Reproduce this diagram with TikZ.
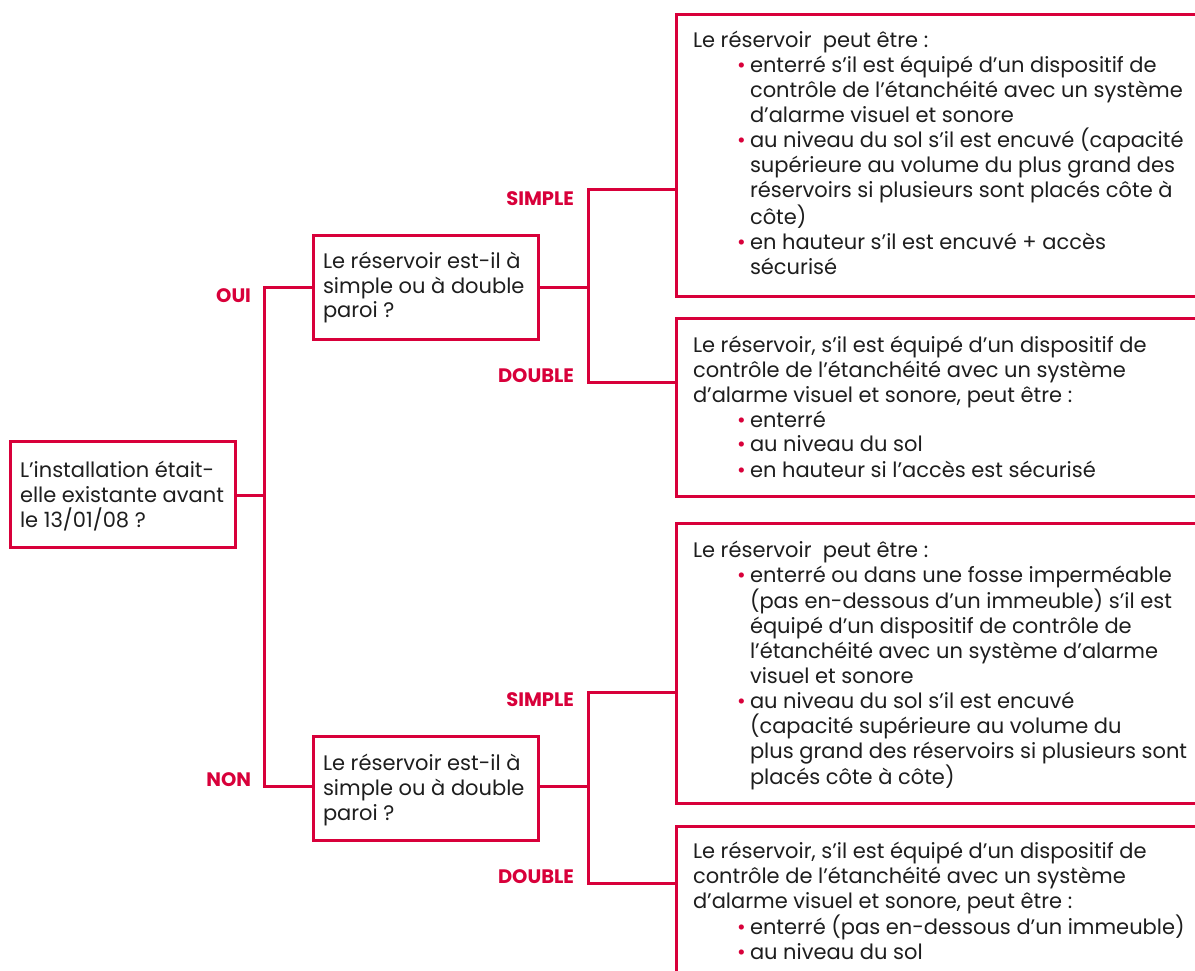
\documentclass[tikz,border=0pt]{standalone}
\usepackage{fontspec}
\setmainfont{Poppins}
\definecolor{rd}{RGB}{216,0,58}
\definecolor{ink}{RGB}{30,30,30}
\newcommand\bl{\hspace*{44pt}\makebox[13pt][l]{\textcolor{rd}{\textbullet}}}
\newcommand\ct{\hspace*{57pt}}
\newcommand\tblock[1]{\parbox[t]{520pt}{\raggedright #1}}
\tikzset{
  box/.style={draw=rd, line width=3pt, inner sep=0pt, outer sep=0pt, anchor=north west},
  conn/.style={draw=rd, line width=3pt, line join=miter},
  txt/.style={anchor=base west, inner sep=0pt, outer sep=0pt, text=ink, font=\fontsize{21}{25}\selectfont},
  lbl/.style={inner sep=0pt, outer sep=0pt, text=rd, font=\bfseries\fontsize{19.5}{21}\selectfont}
}
\begin{document}
\begin{tikzpicture}[x=1pt,y=-1pt]
\useasboundingbox (0,0) rectangle (1195,971);
\fill[white] (0,0) rectangle (1195,971);
\clip (0,0) rectangle (1195,971);

% boxes
\node[box, minimum width=225pt, minimum height=106pt] (b1) at (10,441) {};
\node[box, minimum width=225pt, minimum height=104pt] (b2) at (313,235) {};
\node[box, minimum width=225pt, minimum height=104pt] (b2b) at (313,736) {};
\node[box, minimum width=560pt, minimum height=281pt] (b3) at (676,15) {};
\node[box, minimum width=560pt, minimum height=178pt] (b4) at (676,318) {};
\node[box, minimum width=560pt, minimum height=280pt] (b5) at (676,523) {};
\node[box, minimum width=560pt, minimum height=200pt] (b6) at (676,826) {};

% texts
\node[txt] (t1) at (20,477) {\tblock{L’installation était-\\elle existante avant\\le 13/01/08 ?}};
\node[txt] (t2) at (323,268) {\tblock{Le réservoir est-il à\\simple ou à double\\paroi ?}};
\node[txt] (t2b) at (323,770) {\tblock{Le réservoir est-il à\\simple ou à double\\paroi ?}};
\node[txt] (t3) at (693,48) {\tblock{Le réservoir\ \ peut être :\\
\bl enterré s’il est équipé d’un dispositif de\\
\ct contrôle de l’étanchéité avec un système\\
\ct d’alarme visuel et sonore\\
\bl au niveau du sol s’il est encuvé (capacité\\
\ct supérieure au volume du plus grand des\\
\ct réservoirs si plusieurs sont placés côte à\\
\ct côte)\\
\bl en hauteur s’il est encuvé + accès\\
\ct sécurisé}};
\node[txt] (t4) at (693,352) {\tblock{Le réservoir, s’il est équipé d’un dispositif de\\
contrôle de l’étanchéité avec un système\\
d’alarme visuel et sonore, peut être :\\
\bl enterré\\
\bl au niveau du sol\\
\bl en hauteur si l’accès est sécurisé}};
\node[txt] (t5) at (693,557) {\tblock{Le réservoir\ \ peut être :\\
\bl enterré ou dans une fosse imperméable\\
\ct (pas en-dessous d’un immeuble) s’il est\\
\ct équipé d’un dispositif de contrôle de\\
\ct l’étanchéité avec un système d’alarme\\
\ct visuel et sonore\\
\bl au niveau du sol s’il est encuvé\\
\ct (capacité supérieure au volume du\\
\ct plus grand des réservoirs si plusieurs sont\\
\ct placés côte à côte)}};
\node[txt] (t6) at (693,858) {\tblock{Le réservoir, s’il est équipé d’un dispositif de\\
contrôle de l’étanchéité avec un système\\
d’alarme visuel et sonore, peut être :\\
\bl enterré (pas en-dessous d’un immeuble)\\
\bl au niveau du sol}};

% labels
\node[lbl, anchor=north east] (oui) at (251,289) {OUI};
\node[lbl, anchor=base east] (non) at (251,786) {NON};
\node[lbl, anchor=north east] (s1) at (574,192) {SIMPLE};
\node[lbl, anchor=base east] (d1) at (574,382) {DOUBLE};
\node[lbl, anchor=north east] (s2) at (574,693) {SIMPLE};
\node[lbl, anchor=base east] (d2) at (574,883) {DOUBLE};

% connectors
\coordinate (j1) at (264,287);
\coordinate (j2) at (264,786);
\coordinate (k1) at (588,190);
\coordinate (k2) at (588,382);
\coordinate (k3) at (588,692);
\coordinate (k4) at (588,883);
\draw[conn] (b1.east |- 0,495) -- (j1 |- 0,495);
\draw[conn] (b2.west |- j1) -- (j1) -- (j2) -- (b2b.west |- j2);
\draw[conn] (b2.east |- j1) -- (k1 |- j1);
\draw[conn] (b3.west |- k1) -- (k1) -- (k2) -- (b4.west |- k2);
\draw[conn] (b2b.east |- j2) -- (k3 |- j2);
\draw[conn] (b5.west |- k3) -- (k3) -- (k4) -- (b6.west |- k4);
\end{tikzpicture}
\end{document}
